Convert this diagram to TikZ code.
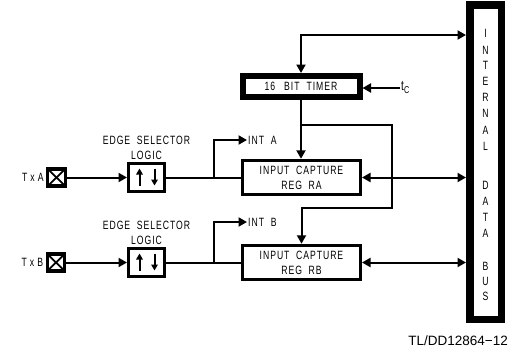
\documentclass[tikz,border=0pt]{standalone}
\usepackage{fontspec}
\setmainfont{Liberation Sans}
\newfontfamily\DiagFont[FakeStretch=0.72,LetterSpace=8,WordSpace=2]{Liberation Sans}
\usetikzlibrary{arrows.meta,calc,positioning}
\definecolor{LineClr}{rgb}{0,0,0}

\tikzset{
  lbl/.style={font=\DiagFont\fontsize{12}{15}\selectfont,inner sep=1pt,align=center},
  blockbox/.style={draw=LineClr,line width=3pt,minimum width=118pt,minimum height=34.5pt,inner sep=0pt,lbl},
  timerbox/.style={draw=LineClr,line width=6pt,minimum width=117pt,minimum height=21pt,inner sep=0pt,lbl},
  selbox/.style={draw=LineClr,line width=3pt,minimum width=36pt,minimum height=28pt,inner sep=0pt},
  padbox/.style={draw=LineClr,line width=3.2pt,minimum width=17.5pt,minimum height=17pt,inner sep=0pt,outer sep=0pt},
  busbox/.style={draw=LineClr,line width=7.5pt,minimum width=31.5pt,minimum height=314.5pt,inner sep=0pt},
  wire/.style={line width=2pt,color=LineClr},
  edgearr/.style={line width=2pt,-{Triangle[length=6pt,width=6.5pt]}}
}

\begin{document}
\begin{tikzpicture}[x=1pt,y=-1pt,>={Triangle[length=8.5pt,width=9pt]}]
\useasboundingbox (0,0) rectangle (511,349);

% blocks
\node[busbox] (bus) at (485.5,162) {};
\node[timerbox] (timer) at (301,86.5) {16\hspace{9pt}BIT\hspace{7pt}TIMER};
\node[blockbox] (RA) at (301.5,177.5) {INPUT CAPTURE\\REG RA};
\node[blockbox] (RB) at (301.5,262.5) {INPUT CAPTURE\\REG RB};

\node[selbox] (selA) at (146.5,177.5) {};
\node[selbox] (selB) at (146.5,262.5) {};
\node[lbl,above=1pt of selA] (selAlbl) {EDGE SELECTOR\\LOGIC};
\node[lbl,above=1pt of selB] (selBlbl) {EDGE SELECTOR\\LOGIC};

\node[padbox] (padA) at (56.5,177.5) {};
\node[padbox] (padB) at (56,262.5) {};
\node[lbl,left=3pt of padA] (padAlbl) {T\hspace{3pt}x\hspace{3pt}A};
\node[lbl,left=3pt of padB] (padBlbl) {T\hspace{3pt}x\hspace{3pt}B};

\node[lbl,anchor=west] (intA) at (247,140) {INT A};
\node[lbl,anchor=west] (intB) at (247,222) {INT B};
\node[lbl,anchor=west] (tc) at (400,88) {\fontsize{14}{14}\selectfont t\raisebox{-3pt}{\fontsize{10}{10}\selectfont C}};

\foreach \ch/\yy [count=\k] in {I/33,N/50,T/65,E/81,R/97,N/113,A/130,L/146,D/185,A/201,T/217,A/233,B/266,U/281,S/296}
  \node[lbl] (busch\k) at (485.5,\yy) {\ch};

\node[anchor=east,inner sep=0pt] (figid) at (508,341) {\fontsize{13.5}{14}\selectfont TL/DD12864−12};

% pads and edge arrows
\foreach \p in {padA,padB}{
  \draw[line width=1.8pt] (\p.north west) -- (\p.south east);
  \draw[line width=1.8pt] (\p.south west) -- (\p.north east);
}
\foreach \s in {selA,selB}{
  \draw[edgearr] ($(\s.center)+(-7,8)$) -- ++(0,-17);
  \draw[edgearr] ($(\s.center)+(8,-9)$) -- ++(0,17);
}

% connections
\coordinate (topc) at (301,35);
\coordinate (tap) at ($(timer.south)!0.42!(RA.north)$);
\coordinate (jog) at (392,208);
\coordinate (brA) at ($(selA.east)!0.64!(RA.west)$);
\coordinate (brB) at ($(selB.east)!0.64!(RB.west)$);

\draw[wire,<->] (timer.north) |- (topc -| bus.west);
\draw[wire,->] (tc.west) -- (tc.west -| timer.east);
\draw[wire,->] (timer.south) -- (timer.south |- RA.north);
\draw[wire,->] (tap) -| (jog) -| (RB.north);
\draw[wire,<->] (RA.east) -- (RA.east -| bus.west);
\draw[wire,<->] (RB.east) -- (RB.east -| bus.west);

\draw[wire,->] (padA) -- (selA);
\draw[wire,->] (padB) -- (selB);
\draw[wire] (selA) -- (RA);
\draw[wire] (selB) -- (RB);
\draw[wire,->] (brA) |- (intA.west);
\draw[wire,->] (brB) |- (intB.west);

\end{tikzpicture}
\end{document}
